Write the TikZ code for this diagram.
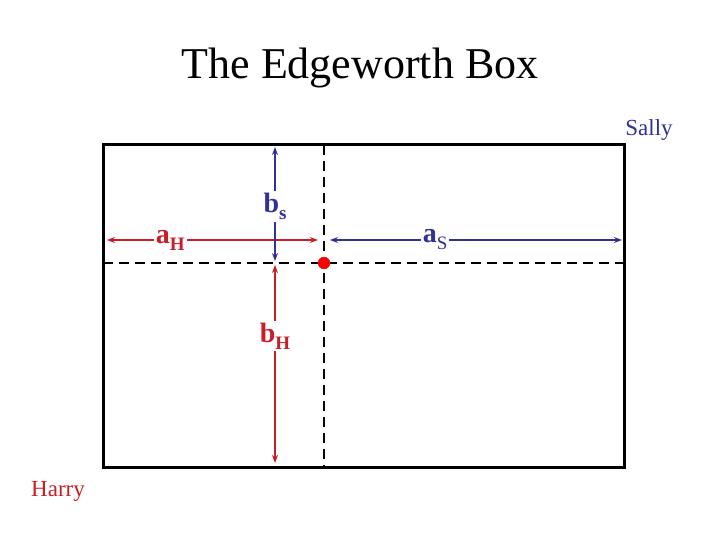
\documentclass[tikz,border=0pt]{standalone}
\usepackage{fontspec}
\setmainfont{Liberation Serif}
\usepackage{tikz}
\usetikzlibrary{arrows.meta}

\definecolor{harryred}{RGB}{200,30,40}
\definecolor{sallyblue}{RGB}{50,50,150}
\newcommand{\lowsub}[1]{\raisebox{-7pt}{\fontsize{19}{19}\selectfont #1}}

\tikzset{
	boxline/.style={line width=3pt},
	cutline/.style={line width=2pt, dash pattern=on 10pt off 6pt},
	both tips/.style={>={Stealth[length=8pt,width=6pt]}, <->},
	harryarrow/.style={harryred, line width=1.5pt, both tips},
	sallyarrow/.style={sallyblue, line width=1.5pt, both tips},
	amount/.style={fill=white, inner sep=2pt, font=\fontsize{28}{30}\selectfont\bfseries}
}

\begin{document}
\begin{tikzpicture}[x=1pt, y=-1pt]
			\useasboundingbox (0, 0) rectangle (720, 540);
			% corners of the box and the endowment point
			\coordinate (H) at (103, 467);
			\coordinate (S) at (624, 145);
			\coordinate (e) at (324, 263);
			\node (title) at (360, 68) {\fontsize{44}{48}\selectfont The Edgeworth Box};
			\node [sallyblue] (sally) at (649, 130) {\fontsize{23}{26}\selectfont Sally};
			\node [harryred] (harry) at (58, 491) {\fontsize{23}{26}\selectfont Harry};
			\draw [boxline] (H) rectangle (S);
			\draw [cutline] (e |- S) -- (e |- H);
			\draw [cutline] (H |- e) -- (S |- e);
			% Harry's endowment
			\draw [harryarrow] (107, 240) -- node [amount, pos=0.3, text=harryred] {a\lowsub{H}} (318, 240);
			\draw [harryarrow] (275, 265) -- node [amount, pos=0.36, text=harryred] {b\lowsub{H}} (275, 463);
			% Sally's endowment
			\draw [sallyarrow] (330, 240) -- node [amount, pos=0.36, text=sallyblue] {a\lowsub{\mdseries S}} (622, 240);
			\draw [sallyarrow] (275, 147) -- node [amount, pos=0.52, text=sallyblue] {b\lowsub{s}} (275, 261);
			\fill [red, draw=harryred] (e) circle [radius = 6];
			\end{tikzpicture}
\end{document}
